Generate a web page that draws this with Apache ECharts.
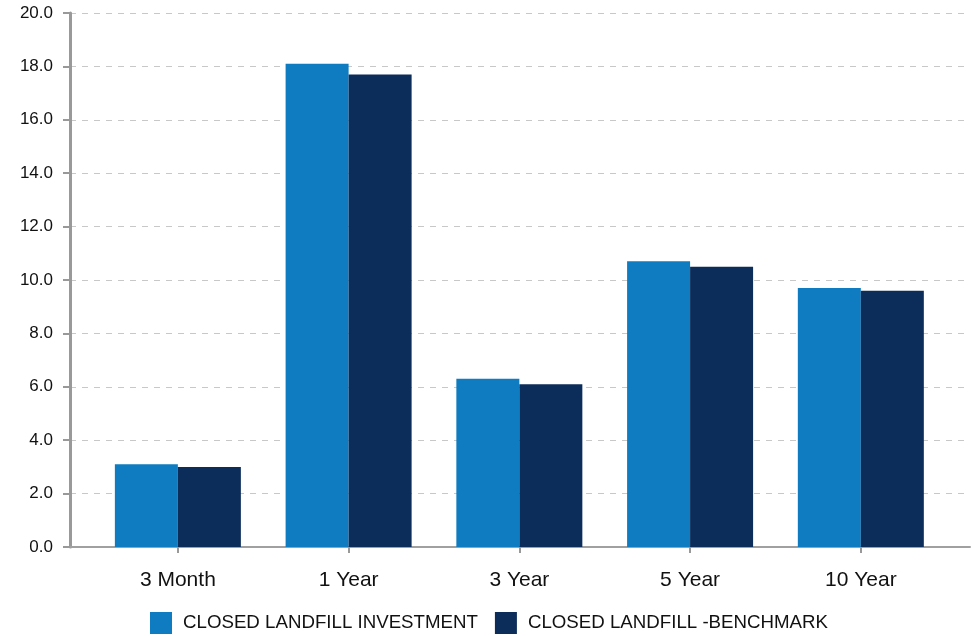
<!DOCTYPE html>
<html>
<head>
<meta charset="utf-8">
<script src="https://cdn.jsdelivr.net/npm/echarts@6/dist/echarts.min.js"></script>
<style>html,body{margin:0;padding:0;background:#fff}#c{width:972px;height:636px}</style>
</head>
<body>
<div id="c"></div>
<script>
var categories = ['3 Month', '1 Year', '3 Year', '5 Year', '10 Year'];
var investment = [3.1, 18.1, 6.3, 10.7, 9.7];
var benchmark = [3.0, 17.7, 6.1, 10.5, 9.6];
var seriesNames = ['CLOSED LANDFILL INVESTMENT', 'CLOSED LANDFILL -BENCHMARK'];
var yMin = 0, yMax = 20, yStep = 2;

var chart = echarts.init(document.getElementById('c'));
var font = 'Liberation Sans, Arial, sans-serif';
chart.setOption({
  animation: false,
  grid: [
    {left: 70, right: 2, top: 13, bottom: 89},
    {left: 92.5, right: 25.8, top: 13, bottom: 89}
  ],
  legend: {
    left: 145, top: 607,
    itemWidth: 22, itemHeight: 22, itemGap: 17,
    icon: 'rect',
    textStyle: {fontFamily: font, fontSize: 18.7, color: '#111', padding: [0, 0, 0, 6]},
    data: seriesNames
  },
  xAxis: [
    {type: 'value', gridIndex: 0, min: 0, max: 1, show: true,
     axisLine: {show: true, onZero: false, lineStyle: {color: '#a0a0a0', width: 2}},
     axisTick: {show: false}, axisLabel: {show: false}, splitLine: {show: false}},
    {type: 'category', gridIndex: 1, data: categories,
     axisLine: {show: false},
     axisTick: {show: true, alignWithLabel: true, length: 6, lineStyle: {color: '#999', width: 2}},
     axisLabel: {fontFamily: font, fontSize: 21, color: '#111', margin: 23},
     splitLine: {show: false}}
  ],
  yAxis: [
    {type: 'value', gridIndex: 0, min: yMin, max: yMax, interval: yStep,
     axisLine: {show: true, lineStyle: {color: '#999', width: 3}},
     axisTick: {show: true, length: 7, lineStyle: {color: '#999', width: 2}},
     axisLabel: {fontFamily: font, fontSize: 17, color: '#111', margin: 17,
       formatter: function (v) { return v.toFixed(1); }},
     splitLine: {show: true, lineStyle: {color: '#c8c8c8', type: [6, 6], width: 1}}},
    {type: 'value', gridIndex: 1, min: yMin, max: yMax, interval: yStep, show: false,
     splitLine: {show: false}}
  ],
  series: [
    {name: seriesNames[0], type: 'bar', xAxisIndex: 1, yAxisIndex: 1, data: investment,
     barWidth: 63, barGap: '0%', itemStyle: {color: '#0f7cc1'}},
    {name: seriesNames[1], type: 'bar', xAxisIndex: 1, yAxisIndex: 1, data: benchmark,
     barWidth: 63, barGap: '0%', itemStyle: {color: '#0c2d59'}}
  ]
});
</script>
</body>
</html>
